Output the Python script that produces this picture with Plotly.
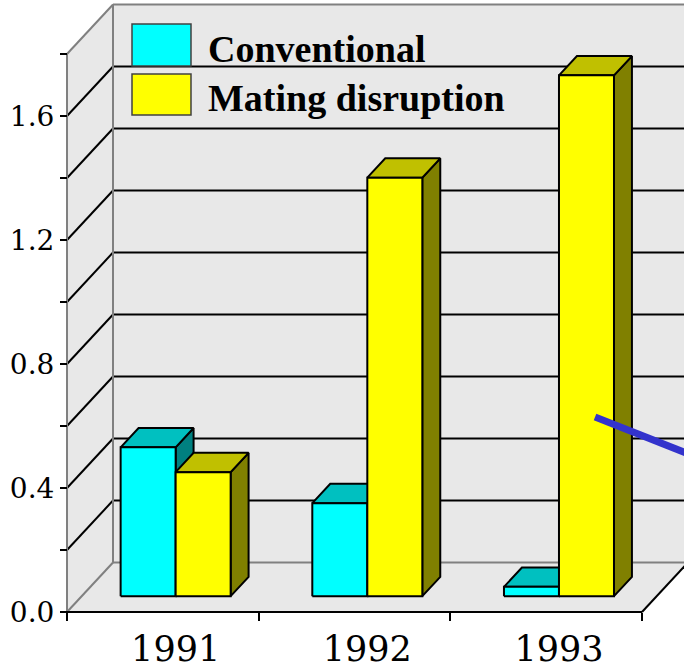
import plotly.graph_objects as go

# ---------------- data ----------------
years = ["1991", "1992", "1993"]
series_names = ["Conventional", "Mating disruption"]
conventional = [0.48, 0.30, 0.03]
mating_disruption = [0.40, 1.35, 1.68]
y_tick_values = [0.0, 0.2, 0.4, 0.6, 0.8, 1.0, 1.2, 1.4, 1.6, 1.8]
y_tick_labels = ["0.0", "", "0.4", "", "0.8", "", "1.2", "", "1.6", ""]
y_max = 1.8

# ---------------- geometry (pixels -> axis units) ----------------
W, H = 684, 668
X0_PX, Y0_PX = 67, 612          # front-left-bottom corner of the 3D box
CAT_PX, VAL_PX = 191.67, 310.0  # px per category, px per unit value
x_range = [-X0_PX / CAT_PX, (W - X0_PX) / CAT_PX]
y_range = [-(H - Y0_PX) / VAL_PX, Y0_PX / VAL_PX]
DX = 46 / CAT_PX                # wall depth in x units
DY = 49.5 / VAL_PX              # wall depth in y units
F0, FD = 0.32, 0.39             # bar front offset / bar depth as share of wall depth
BAR_W, GROUP_C = 0.287, 0.49

n = len(years)
face_colors = {
    "Conventional": ("#00ffff", "#00c0c0", "#008080"),
    "Mating disruption": ("#ffff00", "#c0c000", "#808000"),
}
WALL = "#e8e8e8"
GRAY = "#808080"

fig = go.Figure()


def poly(xs, ys, fill, line_color="black", width=2):
    fig.add_trace(go.Scatter(
        x=list(xs) + [xs[0]], y=list(ys) + [ys[0]], mode="lines",
        fill="toself", fillcolor=fill,
        line=dict(color=line_color, width=width),
        hoverinfo="skip", showlegend=False))


def seg(xs, ys, color, width=2):
    fig.add_trace(go.Scatter(
        x=xs, y=ys, mode="lines", line=dict(color=color, width=width),
        hoverinfo="skip", showlegend=False))


# walls and floor
right_end = x_range[1] + 0.2
poly([DX, right_end, right_end, DX], [DY, DY, y_max + DY, y_max + DY], WALL, "rgba(0,0,0,0)", 0)
poly([0, DX, DX, 0], [0, DY, y_max + DY, y_max], WALL, "rgba(0,0,0,0)", 0)
poly([0, n, n + DX, DX], [0, 0, DY, DY], WALL, "rgba(0,0,0,0)", 0)

# gridlines on back wall and left wall
for v in y_tick_values:
    c = GRAY if v in (0.0, y_max) else "black"
    seg([DX, right_end], [v + DY, v + DY], c, 2)
    seg([0, DX], [v, v + DY], c, 2)
# wall edges
seg([0, 0], [0, y_max], GRAY, 2)
seg([DX, DX], [DY, y_max + DY], GRAY, 2)
# floor edges
seg([0, n], [0, 0], "black", 2)
seg([n, n + DX], [0, DY], "black", 2)

# bars
ox, oy = F0 * DX, F0 * DY
bx, by = FD * DX, FD * DY
for i in range(n):
    for s, (name, vals) in enumerate(zip(series_names, [conventional, mating_disruption])):
        v = vals[i]
        x0 = i + GROUP_C - BAR_W + s * BAR_W + ox
        x1 = x0 + BAR_W
        front, top, side = face_colors[name]
        poly([x1, x1 + bx, x1 + bx, x1], [oy, oy + by, v + oy + by, v + oy], side)
        poly([x0, x1, x1 + bx, x0 + bx], [v + oy, v + oy, v + oy + by, v + oy + by], top)
        poly([x0, x1, x1, x0], [oy, oy, v + oy, v + oy], front)

# blue callout line
fig.add_shape(type="line", xref="x", yref="y", x0=2.755, y0=0.629, x1=3.30, y1=0.496,
              line=dict(color="#3333cc", width=7))

# legend (drawn manually)
legend_rows = [(24, 66), (74, 115)]
for (t, b), name in zip(legend_rows, series_names):
    fig.add_shape(type="rect", xref="paper", yref="paper",
                  x0=132 / W, x1=191 / W, y0=1 - b / H, y1=1 - t / H,
                  fillcolor=face_colors[name][0], line=dict(color="#404040", width=1.5))
    baseline = b - 4
    fig.add_annotation(xref="paper", yref="paper", x=206 / W, y=1 - (baseline - 12.8) / H,
                       xanchor="left", yanchor="middle", showarrow=False,
                       text="<b>" + name + "</b>",
                       font=dict(family="Liberation Serif", size=38, color="black"))

fig.update_layout(
    width=W, height=H, margin=dict(l=0, r=0, t=0, b=0, autoexpand=False),
    paper_bgcolor="white", plot_bgcolor="white", showlegend=False,
    xaxis=dict(range=x_range, anchor="free", position=(H - Y0_PX) / H, automargin=False,
               showgrid=False, zeroline=False, showline=False,
               tickmode="array", tickvals=[i + GROUP_C + ox for i in range(n)], ticktext=years,
               ticks="outside", ticklen=6, tickcolor="rgba(0,0,0,0)",
               tickfont=dict(family="DejaVu Serif", size=35, color="black"),
               minor=dict(tickmode="array", tickvals=list(range(n + 1)), ticks="outside",
                          ticklen=8, tickwidth=2, tickcolor="black", showgrid=False)),
    yaxis=dict(range=y_range, anchor="free", position=X0_PX / W, automargin=False,
               showgrid=False, zeroline=False, showline=False,
               tickmode="array", tickvals=y_tick_values, ticktext=y_tick_labels,
               ticks="outside", ticklen=7, tickwidth=2, tickcolor="black",
               tickfont=dict(family="DejaVu Serif", size=28, color="black")),
)

fig.write_html("out.html", config={"displayModeBar": False},
               post_script="document.body.style.margin='0';document.body.style.overflow='hidden';")
